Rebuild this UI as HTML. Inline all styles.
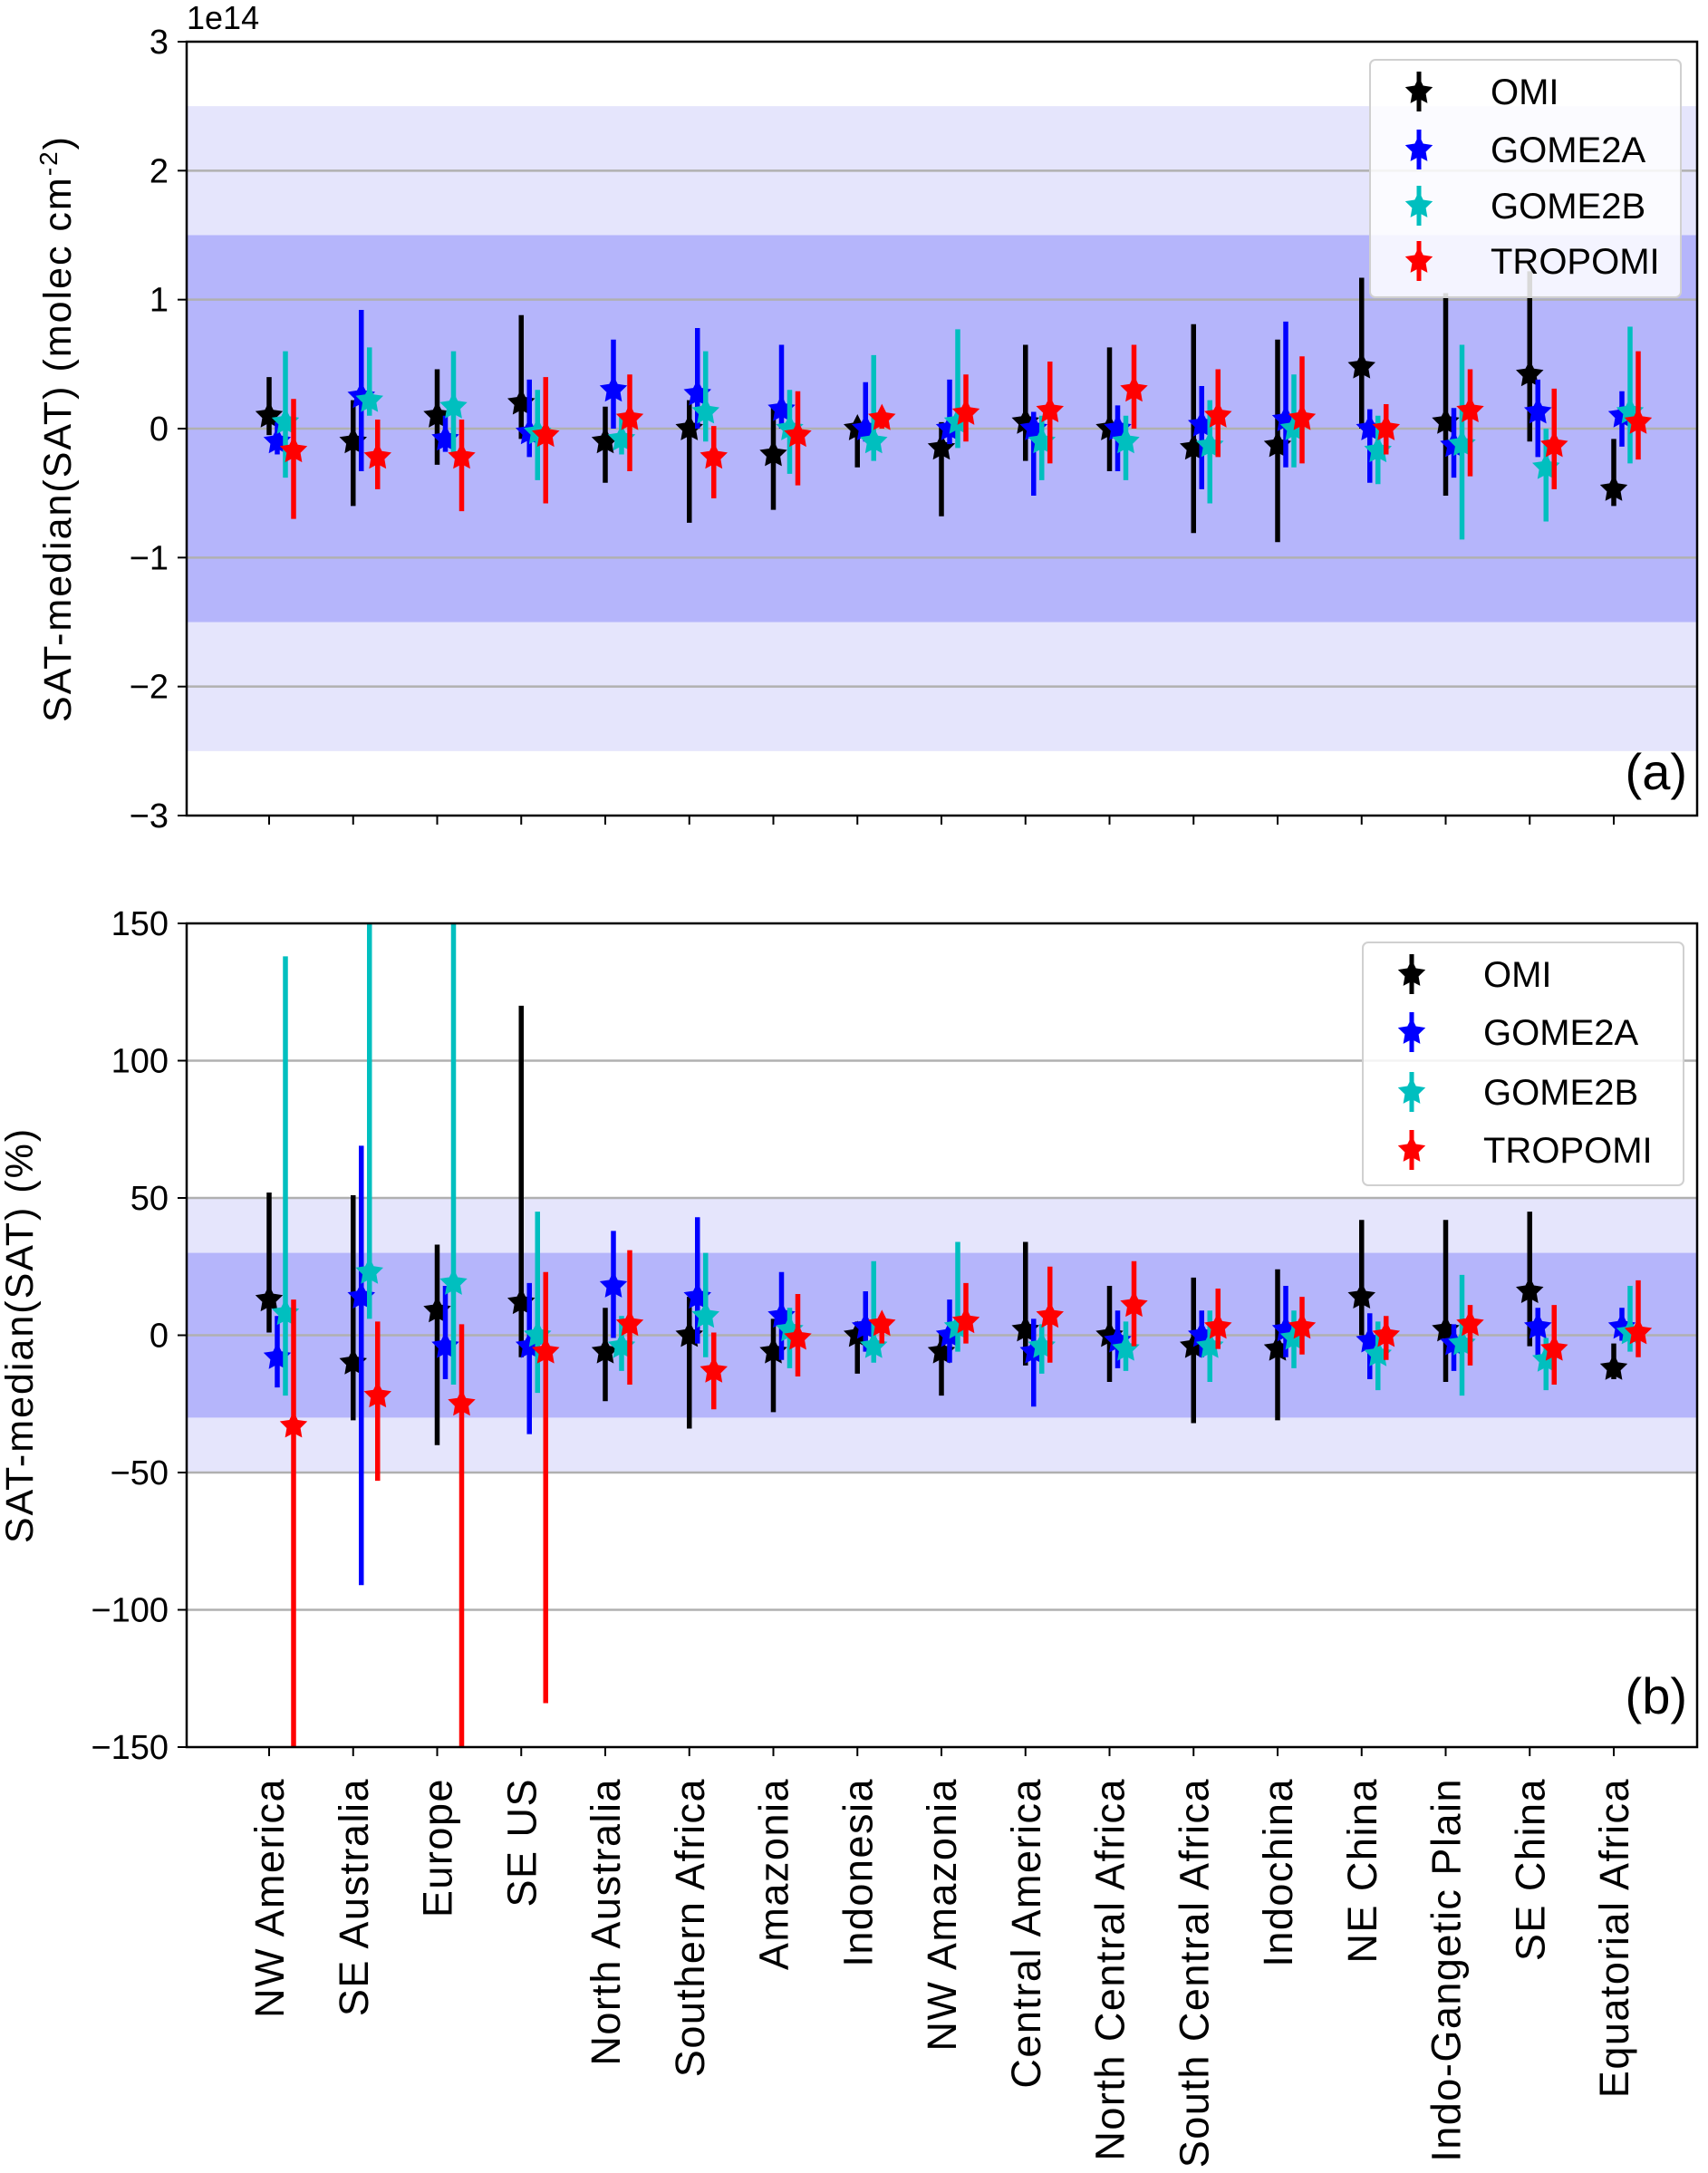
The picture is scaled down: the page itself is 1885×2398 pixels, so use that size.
<!DOCTYPE html>
<html><head><meta charset="utf-8"><style>
body{margin:0;background:#fff}
svg text{font-family:"Liberation Sans","DejaVu Sans",sans-serif;fill:#000}
.nar{font-family:"Liberation Sans Narrow","Liberation Sans",sans-serif}
</style></head><body>
<svg id="fig" width="1885" height="2393" viewBox="0 0 1885 2393" xmlns="http://www.w3.org/2000/svg"></svg>
<script>
const categories=["NW America","SE Australia","Europe","SE US","North Australia","Southern Africa","Amazonia","Indonesia","NW Amazonia","Central America","North Central Africa","South Central Africa","Indochina","NE China","Indo-Gangetic Plain","SE China","Equatorial Africa"];
const seriesNames=["OMI","GOME2A","GOME2B","TROPOMI"];
const seriesColors=["#000000","#0000ff","#00bfbf","#ff0000"];
// panel a (1e14 molec cm-2): median, low, high
const aOMI=[[0.1,-0.05,0.4],[-0.1,-0.6,0.22],[0.1,-0.28,0.46],[0.2,-0.08,0.88],[-0.1,-0.42,0.17],[0,-0.73,0.22],[-0.2,-0.63,0.17],[0,-0.3,0.07],[-0.15,-0.68,0.05],[0.05,-0.25,0.65],[0,-0.33,0.63],[-0.15,-0.81,0.81],[-0.13,-0.88,0.69],[0.48,0,1.17],[0.05,-0.52,1.05],[0.42,-0.1,1.22],[-0.47,-0.6,-0.08]];
const aGOME2A=[[-0.1,-0.2,0.05],[0.25,-0.33,0.92],[-0.08,-0.18,0.1],[-0.03,-0.22,0.38],[0.3,0,0.69],[0.27,0,0.78],[0.15,0,0.65],[0,-0.1,0.36],[0,-0.12,0.38],[0,-0.52,0.13],[0,-0.33,0.18],[0.03,-0.47,0.33],[0.07,-0.3,0.83],[0,-0.42,0.15],[-0.13,-0.38,0.16],[0.13,-0.22,0.38],[0.1,-0.14,0.29]];
const aGOME2B=[[0.05,-0.38,0.6],[0.22,0.1,0.63],[0.17,-0.2,0.6],[-0.03,-0.4,0.3],[-0.08,-0.2,0.1],[0.13,-0.1,0.6],[0,-0.35,0.3],[-0.1,-0.25,0.57],[0.05,-0.15,0.77],[-0.1,-0.4,0.1],[-0.1,-0.4,0.1],[-0.13,-0.58,0.22],[0,-0.3,0.42],[-0.17,-0.43,0.1],[-0.12,-0.86,0.65],[-0.3,-0.72,0],[0.13,-0.27,0.79]];
const aTROPOMI=[[-0.17,-0.7,0.23],[-0.22,-0.47,0.07],[-0.22,-0.64,0.07],[-0.05,-0.58,0.4],[0.08,-0.33,0.42],[-0.22,-0.54,0.02],[-0.05,-0.44,0.29],[0.08,0,0.13],[0.12,-0.1,0.42],[0.14,-0.27,0.52],[0.3,0,0.65],[0.1,-0.22,0.46],[0.08,-0.27,0.56],[0,-0.2,0.19],[0.14,-0.37,0.46],[-0.13,-0.47,0.31],[0.05,-0.24,0.6]];
// panel b (%)
const bOMI=[[13,1,52],[-10,-31,51],[9,-40,33],[12,-8,120],[-6,-24,10],[0,-34,14],[-6,-28,6],[0,-14,5],[-6,-22,1],[2,-11,34],[0,-17,18],[-4,-32,21],[-5,-31,24],[14,0,42],[2,-17,42],[16,-4,45],[-12,-16,-3]];
const bGOME2A=[[-8,-19,7],[14,-91,69],[-4,-16,18],[-4,-36,19],[18,-1,38],[14,-3,43],[7,-9,23],[3,-6,16],[0,-10,13],[-6,-26,6],[-2,-12,9],[0,-8,9],[2,-8,18],[-2,-16,8],[-3,-13,4],[3,-8,10],[3,-2,10]];
const bGOME2B=[[8,-22,138],[23,6,160],[19,-18,160],[0,-21,45],[-4,-13,7],[7,-8,30],[2,-12,10],[-4,-10,27],[3,-6,34],[-4,-14,4],[-5,-13,5],[-4,-17,9],[-1,-12,9],[-7,-20,5],[-3,-22,22],[-9,-20,-1],[1,-6,18]];
const bTROPOMI=[[-33,-160,13],[-22,-53,5],[-25,-160,4],[-6,-134,23],[4,-18,31],[-13,-27,1],[-1,-15,15],[4,-3,7],[5,-3,19],[7,-10,25],[11,-4,27],[3,-5,17],[3,-7,14],[0,-9,7],[4,-11,11],[-5,-18,11],[1,-8,20]];
const aTicks=[3,2,1,0,-1,-2,-3], aTickLabels=["3","2","1","0","\u22121","\u22122","\u22123"];
const bTicks=[150,100,50,0,-50,-100,-150], bTickLabels=["150","100","50","0","\u221250","\u2212100","\u2212150"];

const NS="http://www.w3.org/2000/svg", svg=document.getElementById('fig');
function el(t,a,p){const e=document.createElementNS(NS,t);for(const k in a)e.setAttribute(k,a[k]);(p||svg).appendChild(e);return e;}
const X0=206,X1=1873,firstX=297,step=92.75,offs=[0,9,18,27];
const xCat=i=>firstX+i*step;
function star(cx,cy,r,col,parent){
  let pts=[];for(let k=0;k<10;k++){const rr=k%2?r*0.5:r;const a=-Math.PI/2+k*Math.PI/5;pts.push((cx+rr*Math.cos(a)).toFixed(1)+','+(cy+rr*Math.sin(a)).toFixed(1));}
  return el('polygon',{points:pts.join(' '),fill:col},parent);
}
function panel(id,top,bot,vmin,vmax,dark,light,ticks,labels,data,ytitle,letter,legY,legBox,showCat){
  const y=v=>bot-(v-vmin)/(vmax-vmin)*(bot-top);
  const g=el('g',{});
  el('clipPath',{id:'clip'+id},g);el('rect',{x:X0,y:top,width:X1-X0,height:bot-top},g.lastChild);
  let r=el('rect',{x:X0,y:y(light),width:X1-X0,height:y(-light)-y(light),fill:'#e5e5fc'},g);
  r=el('rect',{x:X0,y:y(dark),width:X1-X0,height:y(-dark)-y(dark),fill:'#b5b5fb'},g);
  ticks.forEach((t,i)=>{
    if(t!==vmin&&t!==vmax){const l=el('line',{x1:X0,x2:X1,y1:y(t),y2:y(t),stroke:'#b0b0b0','stroke-width':2.5},g);}
    el('line',{x1:X0-10,x2:X0,y1:y(t),y2:y(t),stroke:'#000','stroke-width':2},g);
    const tx=el('text',{x:X0-20,y:y(t)+13,'text-anchor':'end','font-size':38,'class':'nar'},g);tx.textContent=labels[i];
    
  });
  const mg=el('g',{'clip-path':'url(#clip'+id+')'},g);
  data.forEach((ser,s)=>{ser.forEach((d,i)=>{
    const cx=xCat(i)+offs[s];
    const l=el('line',{x1:cx,x2:cx,y1:y(d[1]),y2:y(d[2]),stroke:seriesColors[s],'stroke-width':5.5},mg);
    
    const p=star(cx,y(d[0]),16,seriesColors[s],mg);
    
  });});
  categories.forEach((c,i)=>{
    el('line',{x1:xCat(i),x2:xCat(i),y1:bot,y2:bot+10,stroke:'#000','stroke-width':2},g);
    if(showCat){const t=el('text',{x:0,y:0,'text-anchor':'end','font-size':45,'letter-spacing':1.5,transform:`translate(${xCat(i)+16},${bot+34}) rotate(-90)`},g);t.textContent=c;
    }
  });
  const fr=el('rect',{x:X0,y:top,width:X1-X0,height:bot-top,fill:'none',stroke:'#000','stroke-width':2.5},g);
  const yt=el('text',{x:0,y:0,'text-anchor':'middle','font-size':43,'letter-spacing':2,transform:`translate(${ytitle[1]},${(top+bot)/2}) rotate(-90)`},g);
  yt.innerHTML=ytitle[0];
  const lt=el('text',{x:1862,y:letter,'text-anchor':'end','font-size':56},g);lt.textContent='('+id+')';
  
  const lg=el('g',{},g);
  el('rect',{x:legBox[0],y:legBox[1],width:legBox[2],height:legBox[3],rx:6,fill:'#fff','fill-opacity':0.85,stroke:'#d0d0d0','stroke-width':2},lg);
  seriesNames.forEach((n,s)=>{
    const ly=legY[s],mx=legBox[0]+54;
    const e=el('g',{},lg);
    el('line',{x1:mx,x2:mx,y1:ly-22,y2:ly+22,stroke:seriesColors[s],'stroke-width':5},e);
    star(mx,ly,16,seriesColors[s],e);
    const t=el('text',{x:legBox[0]+133,y:ly+14,'font-size':40,'class':'nar'},e);t.textContent=n;
  });
}
panel('a',46,900,-3,3,1.5,2.5,aTicks,aTickLabels,[aOMI,aGOME2A,aGOME2B,aTROPOMI],['SAT-median(SAT) (molec cm<tspan baseline-shift="super" font-size="28">-2</tspan>)',78],851+20,[101,165,227,288],[1512,66,343,262],false);
panel('b',1019,1928,-150,150,30,50,bTicks,bTickLabels,[bOMI,bGOME2A,bGOME2B,bTROPOMI],['SAT-median(SAT) (%)',36],1871+20,[1075,1139,1205,1269],[1504,1040,354,268],true);
const e14=el('text',{x:206,y:32,'font-size':36,'class':'nar'});e14.textContent='1e14';


</script>
</body></html>
